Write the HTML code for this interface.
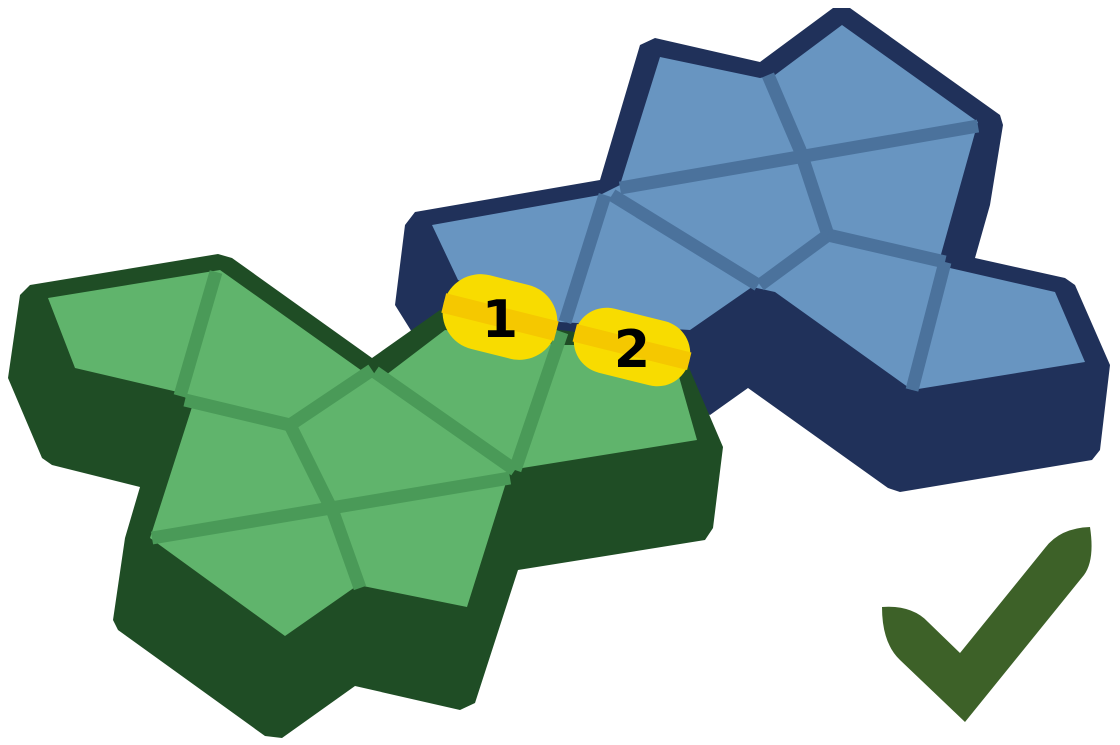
<!DOCTYPE html>
<html><head><meta charset="utf-8"><style>
html,body{margin:0;padding:0;background:#fff;}
svg{display:block;}
</style></head><body>
<svg width="1120" height="745" viewBox="0 0 1120 745">
  <g>
    <polygon fill="#20315a" points="640,45 655,38 760,62 833,8 850,8 1000,115 1003,125 990,205 975,258 1065,278 1075,285 1110,365 1100,450 1092,460 900,492 888,488 748,388 710,415 600,360 420,345 395,305 405,225 415,212 600,180"/>
    <polygon fill="#6895c1" points="660,57 760,78 775,75 842,25 978,122 940,258 950,268 1055,292 1085,362 912,390 775,292 752,287 690,330 560,322 458,280 432,225 600,195 620,185"/>
    <g stroke="#4b729c" stroke-width="13" fill="none" stroke-linecap="butt">
      <polyline points="768,75 800,150 828,235"/>
      <line x1="620" y1="188" x2="978" y2="126"/>
      <line x1="605" y1="195" x2="565" y2="322"/>
      <line x1="612" y1="195" x2="758" y2="285"/>
      <line x1="828" y1="235" x2="760" y2="285"/>
      <line x1="828" y1="235" x2="945" y2="262"/>
      <line x1="945" y1="262" x2="912" y2="390"/>
    </g>
  </g>
  <g>
    <polygon fill="#1f4d25" points="30,285 218,254 232,258 372,358 440,310 560,330 680,345 690,370 723,447 713,528 705,540 518,570 475,703 460,710 355,686 282,738 265,736 118,630 113,620 125,538 140,487 52,465 42,458 8,378 20,295"/>
    <polygon fill="#60b46c" points="48,298 220,270 372,378 382,378 445,330 560,345 670,345 697,440 510,470 467,607 358,585 285,636 150,538 192,407 182,393 75,368"/>
    <g stroke="#4a9a58" stroke-width="13" fill="none">
      <line x1="216" y1="272" x2="180" y2="396"/>
      <line x1="185" y1="400" x2="290" y2="425"/>
      <line x1="290" y1="425" x2="372" y2="370"/>
      <polyline points="290,425 333,512 360,588"/>
      <line x1="152" y1="538" x2="510" y2="478"/>
      <line x1="375" y1="372" x2="515" y2="470"/>
      <line x1="515" y1="470" x2="562" y2="332"/>
    </g>
  </g>
  <g transform="translate(500,317) rotate(14)">
    <rect x="-58" y="-38" width="116" height="76" rx="38" fill="#f8dc00"/>
    <rect x="-58" y="-10" width="116" height="20" fill="#f5c800"/>
    <text x="0" y="20" transform="rotate(-14)" text-anchor="middle" font-family="DejaVu Sans, sans-serif" font-weight="bold" font-size="52" fill="#000">1</text>
  </g>
  <g transform="translate(632,347) rotate(14)">
    <rect x="-59" y="-33" width="118" height="66" rx="33" fill="#f8dc00"/>
    <rect x="-59" y="-9" width="118" height="18" fill="#f5c800"/>
    <text x="0" y="20" transform="rotate(-14)" text-anchor="middle" font-family="DejaVu Sans, sans-serif" font-weight="bold" font-size="52" fill="#000">2</text>
  </g>
  <path fill="#3d6128" d="M882,607 Q912,605 928,622 L960,653 L1045,548 Q1060,528 1090,527 Q1095,560 1084,575 L965,722 L900,660 Q882,643 882,607 Z"/>
</svg>
</body></html>
